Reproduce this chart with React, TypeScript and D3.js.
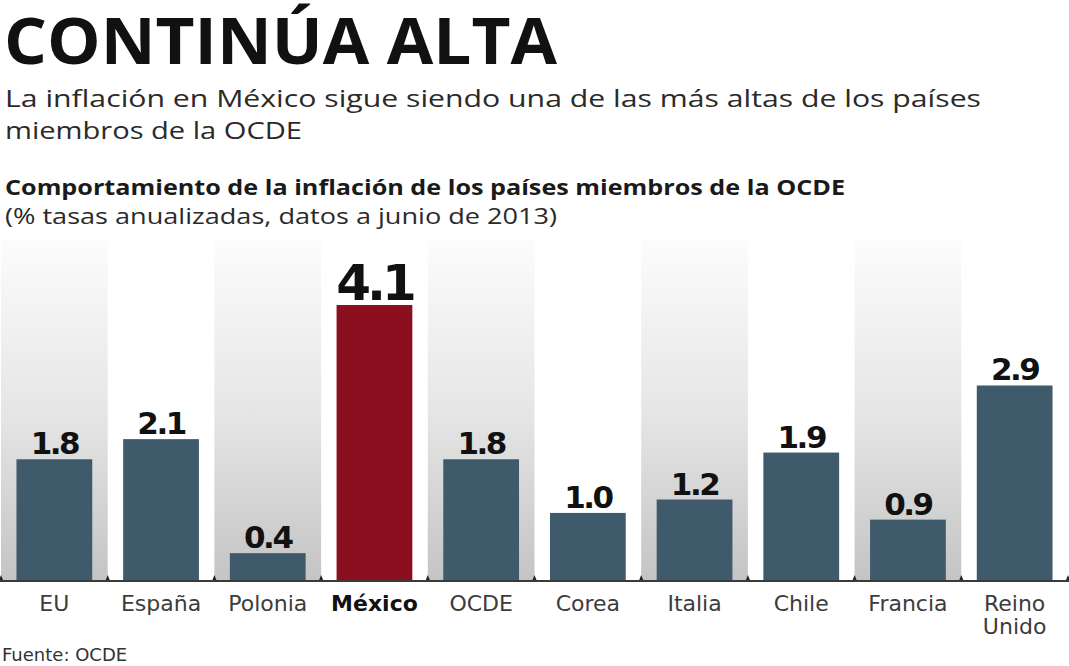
import React from "react";
import * as d3 from "d3";

const categories = ["EU", "España", "Polonia", "México", "OCDE", "Corea", "Italia", "Chile", "Francia", "Reino Unido"];
const values = [1.8, 2.1, 0.4, 4.1, 1.8, 1.0, 1.2, 1.9, 0.9, 2.9];
const valueLabels = ["1.8", "2.1", "0.4", "4.1", "1.8", "1.0", "1.2", "1.9", "0.9", "2.9"];
const highlight = "México";

const title = "CONTINÚA ALTA";
const subtitle1 = "La inflación en México sigue siendo una de las más altas de los países";
const subtitle2 = "miembros de la OCDE";
const chartTitle = "Comportamiento de la inflación de los países miembros de la OCDE";
const chartSub = "(% tasas anualizadas, datos a junio de 2013)";
const source = "Fuente: OCDE";

const W = 1069;
const H = 666;

export default function App() {
  const x = d3.scaleBand<string>().domain(categories).range([1, 1068]).paddingInner(0.29).paddingOuter(0.145);
  const y = d3.scaleLinear().domain([0, 4.1]).range([580, 305]);
  const step = x.step();
  const colTop = 240;
  const baseY = y(0);

  return (
    <svg width={W} height={H} style={{ position: "absolute", left: 0, top: 0, background: "#fff" }}>
      <defs>
        <linearGradient id="colg" gradientUnits="userSpaceOnUse" x1="0" y1={colTop} x2="0" y2={baseY}>
          <stop offset="0" stopColor="#fcfcfc" />
          <stop offset="0.5" stopColor="#e6e6e6" />
          <stop offset="1" stopColor="#c4c4c4" />
        </linearGradient>
      </defs>
      <rect x={0} y={0} width={W} height={H} fill="#fff" />
      <text x={4} y={64} fontFamily="'Open Sans', 'Noto Sans', sans-serif" fontWeight={700} fontSize={64} fill="#111" textLength={553} lengthAdjust="spacingAndGlyphs">{title}</text>
      <text x={5} y={107} fontFamily="'Open Sans', 'Noto Sans', sans-serif" fontSize={24} fill="#2a2a2a" textLength={976} lengthAdjust="spacingAndGlyphs">{subtitle1}</text>
      <text x={5} y={139} fontFamily="'Open Sans', 'Noto Sans', sans-serif" fontSize={24} fill="#2a2a2a" textLength={297} lengthAdjust="spacingAndGlyphs">{subtitle2}</text>
      <text x={5} y={195} fontFamily="'Open Sans', 'Noto Sans', sans-serif" fontWeight={700} fontSize={21} fill="#1a1a1a" textLength={840} lengthAdjust="spacingAndGlyphs">{chartTitle}</text>
      <text x={5} y={224} fontFamily="'Open Sans', 'Noto Sans', sans-serif" fontSize={21} fill="#2a2a2a" textLength={552} lengthAdjust="spacingAndGlyphs">{chartSub}</text>

      {categories.map((c, i) =>
        i % 2 === 0 ? (
          <rect key={"col" + c} x={(x(c) as number) - step * 0.145} y={colTop} width={step} height={baseY - colTop} fill="url(#colg)" />
        ) : null
      )}

      {categories.map((c, i) => (
        <rect key={"bar" + c} x={x(c)} y={y(values[i])} width={x.bandwidth()} height={baseY - y(values[i])} fill={c === highlight ? "#8c0f20" : "#3e5a6b"} />
      ))}

      {categories.map((c, i) => {
        const big = c === highlight;
        return (
          <text key={"lab" + c} x={(x(c) as number) + x.bandwidth() / 2} y={y(values[i]) - 5} textAnchor="middle"
            fontFamily="'DejaVu Sans', sans-serif" fontWeight={700} fontSize={big ? 50 : 31} letterSpacing={big ? -4 : -2.5} fill="#111">
            {valueLabels[i]}
          </text>
        );
      })}

      <line x1={0} x2={W} y1={baseY + 1} y2={baseY + 1} stroke="#3a3a3a" strokeWidth={2} />
      {d3.range(categories.length + 1).map((k) => {
        const tx = 1 + k * step;
        return <path key={"tk" + k} d={`M${tx - 2},${baseY} L${tx},${baseY - 5} L${tx + 2},${baseY} Z`} fill="#222" />;
      })}

      {categories.map((c) => {
        const parts = c === "Reino Unido" ? ["Reino", "Unido"] : [c];
        const bold = c === highlight;
        return (
          <text key={"ax" + c} x={(x(c) as number) + x.bandwidth() / 2} y={611} textAnchor="middle"
            fontFamily="'DejaVu Sans', sans-serif" fontSize={22} fontWeight={bold ? 700 : 400} fill={bold ? "#111" : "#3c3c3c"}>
            {parts.map((p, j) => (
              <tspan key={p} x={(x(c) as number) + x.bandwidth() / 2} dy={j === 0 ? 0 : 23}>{p}</tspan>
            ))}
          </text>
        );
      })}

      <text x={2} y={661} fontFamily="'DejaVu Sans', sans-serif" fontSize={18} fill="#333">{source}</text>
    </svg>
  );
}
